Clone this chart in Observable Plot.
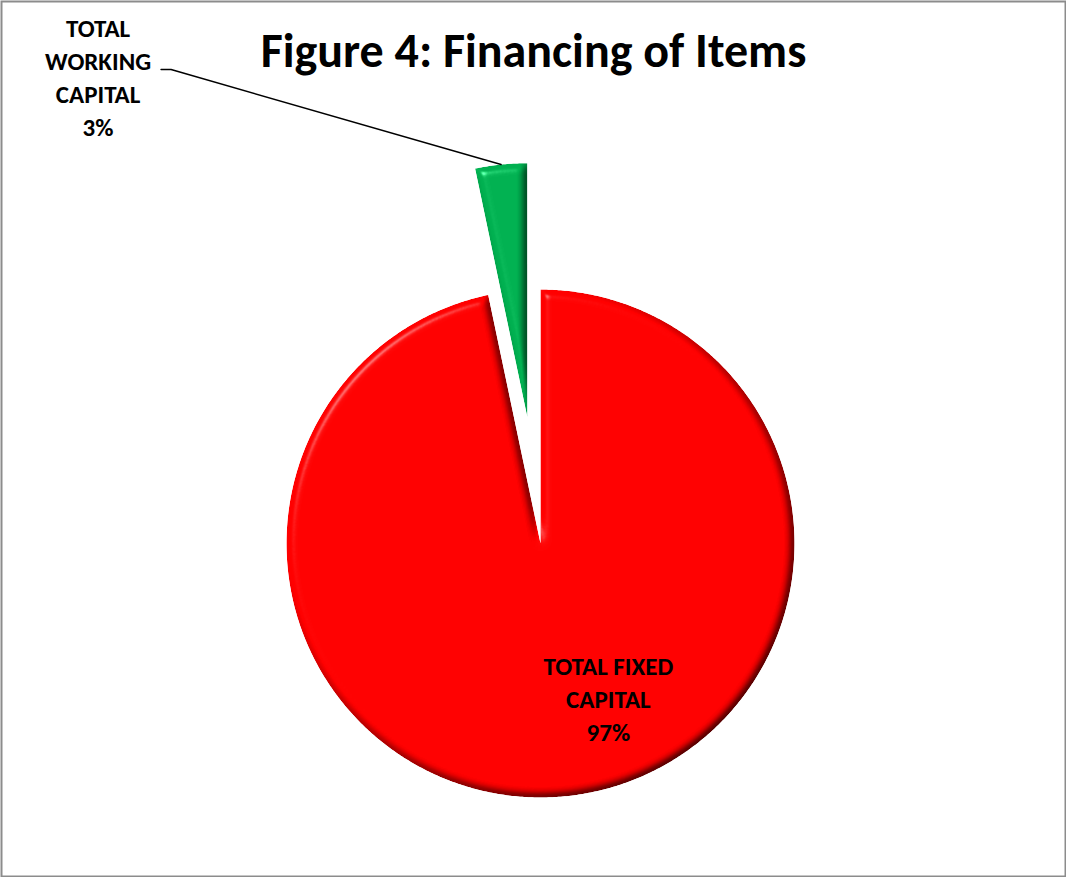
<!DOCTYPE html>
<html><head><meta charset="utf-8">
<script src="https://cdn.jsdelivr.net/npm/d3@7"></script>
<script src="https://cdn.jsdelivr.net/npm/@observablehq/plot@0.6"></script>
<style>body{margin:0;background:#fff} svg{display:block}</style>
</head><body><div id="chart"></div>
<script>
// ---- data ----
const categories = ["TOTAL FIXED CAPITAL", "TOTAL WORKING CAPITAL"];
const values = [96.7, 3.3];
const labels = ["TOTAL FIXED\nCAPITAL\n97%", "TOTAL\nWORKING\nCAPITAL\n3%"];
const colors = ["#ff0000", "#00b050"];
const explode = [0, 0.5];
const title = "Figure 4: Financing of Items";

// ---- layout ----
const W = 1066, H = 877, cx = 540, cy = 543, R = 254;
const FONT = "Carlito, Calibri, Lato, sans-serif";

const arcs = d3.pie().sort(null).value(d => d)(values);
const pts = [];
const mids = [];
arcs.forEach((a, i) => {
  const cat = categories[i];
  const mid = (a.startAngle + a.endAngle) / 2;
  const ox = explode[i] * Math.sin(mid), oy = explode[i] * Math.cos(mid);
  mids.push({cat, mid, ox, oy});
  pts.push({cat, x: ox, y: oy});
  const n = Math.max(6, Math.ceil((a.endAngle - a.startAngle) / 0.008));
  for (let k = 0; k <= n; k++) {
    const t = a.startAngle + (a.endAngle - a.startAngle) * k / n;
    pts.push({cat, x: ox + Math.sin(t), y: oy + Math.cos(t)});
  }
});

// label for big slice: inside, near mid angle
const m0 = mids[0];
const redLabel = [{x: m0.ox + 0.68 * Math.sin(m0.mid), y: m0.oy + 0.68 * Math.cos(m0.mid), text: labels[0]}];
// label for exploded slice: leader from outer arc midpoint
const m1 = mids[1];
const arcMid = {x: m1.ox + Math.sin(m1.mid), y: m1.oy + Math.cos(m1.mid)};
const px = 1 / R;
const leader = [
  {x: arcMid.x, y: arcMid.y},
  {x: arcMid.x - 330 * px, y: arcMid.y + 95 * px},
  {x: arcMid.x - 340 * px, y: arcMid.y + 95 * px}
];
const greenLabel = [{x: leader[2].x - 63 * px, y: leader[2].y - 6 * px, text: labels[1]}];

const svg = Plot.plot({
  width: W, height: H, margin: 0,
  x: {domain: [-cx / R, (W - cx) / R], range: [0, W], axis: null},
  y: {domain: [(cy - H) / R, cy / R], range: [H, 0], axis: null},
  color: {domain: categories, range: colors},
  style: {background: "#fff", fontFamily: FONT},
  marks: [
    Plot.line(pts, {x: "x", y: "y", z: "cat", fill: "cat", stroke: "none", curve: "linear-closed"}),
    Plot.line(leader, {x: "x", y: "y", stroke: "#000", strokeWidth: 1.5}),
    Plot.text(redLabel, {x: "x", y: "y", text: "text", dx: 50, dy: -18, fontSize: 25, fontWeight: "bold", fill: "#000", lineHeight: 1.32, fontFamily: FONT}),
    Plot.text(greenLabel, {x: "x", y: "y", text: "text", fontSize: 25, fontWeight: "bold", fill: "#000", lineHeight: 1.32, fontFamily: FONT}),
    Plot.text([title], {frameAnchor: "top", dy: 32, text: d => d, fontSize: 48, fontWeight: "bold", fill: "#000", fontFamily: FONT}),
    Plot.frame({stroke: "#8c8c8c", strokeWidth: 2, inset: 1})
  ]
});

const defs = document.createElementNS("http://www.w3.org/2000/svg", "defs");
defs.innerHTML = `<filter id="bevel" x="-5%" y="-5%" width="110%" height="110%" color-interpolation-filters="sRGB">
 <feGaussianBlur in="SourceAlpha" stdDeviation="4" result="blur"/>
 <feDiffuseLighting in="blur" surfaceScale="5" diffuseConstant="1.155" lighting-color="#fff" result="diff"><feDistantLight azimuth="225" elevation="60"/></feDiffuseLighting>
 <feComposite in="diff" in2="SourceGraphic" operator="arithmetic" k1="1" result="shaded"/>
 <feSpecularLighting in="blur" surfaceScale="5" specularConstant="0.7" specularExponent="60" lighting-color="#fff" result="spec"><feDistantLight azimuth="225" elevation="50"/></feSpecularLighting>
 <feComposite in="spec" in2="SourceAlpha" operator="in" result="specIn"/>
 <feComposite in="shaded" in2="specIn" operator="arithmetic" k2="1" k3="0.6" result="sum"/>
 <feComposite in="sum" in2="SourceAlpha" operator="in"/>
</filter>`;
svg.insertBefore(defs, svg.firstChild);
const pieG = svg.querySelector('g[aria-label="line"]');
if (pieG) pieG.setAttribute("filter", "url(#bevel)");
document.getElementById("chart").appendChild(svg);
</script>
</body></html>
